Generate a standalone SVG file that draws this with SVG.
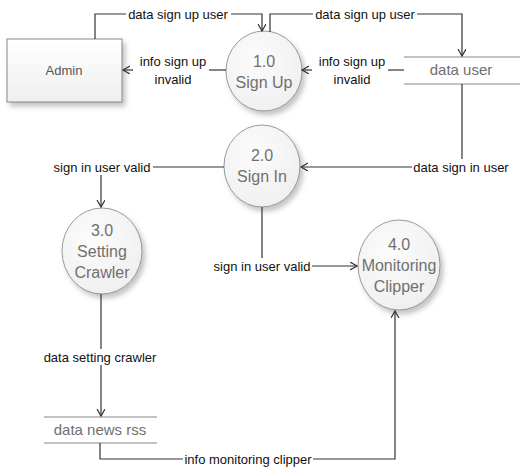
<svg xmlns="http://www.w3.org/2000/svg" width="528" height="470" viewBox="0 0 528 470">
<style>
.lbl{font-family:"Liberation Sans",Arial,sans-serif;font-size:13px;fill:#111;text-anchor:middle}
.nt{font-family:"Liberation Sans",Arial,sans-serif;font-size:16px;fill:#707070;text-anchor:middle}
.st{font-family:"Liberation Sans",Arial,sans-serif;font-size:15px;fill:#707070;text-anchor:middle}
.proc{fill:url(#cg);stroke:#9a9a9a;stroke-width:1;filter:url(#sh)}
.box{fill:url(#bg);stroke:#888;stroke-width:1;filter:url(#sh)}
.store{stroke:#888;stroke-width:1.2}
.c{fill:none;stroke:#333;stroke-width:1.2}
.a{marker-end:url(#ar)}
</style>
<defs>
<marker id="ar" markerWidth="10" markerHeight="10" refX="7" refY="4" orient="auto" markerUnits="userSpaceOnUse">
<path d="M0,0 L7,4 L0,8" fill="none" stroke="#333" stroke-width="1.2"/>
</marker>
<radialGradient id="cg" cx="0.4" cy="0.35" r="0.75">
<stop offset="0" stop-color="#fcfcfc"/>
<stop offset="1" stop-color="#eeeeee"/>
</radialGradient>
<linearGradient id="bg" x1="0" y1="0" x2="0" y2="1">
<stop offset="0" stop-color="#ffffff"/>
<stop offset="1" stop-color="#efefef"/>
</linearGradient>
<filter id="sh" x="-20%" y="-20%" width="150%" height="150%">
<feDropShadow dx="3" dy="4" stdDeviation="2.5" flood-color="#888" flood-opacity="0.5"/>
</filter>
</defs>
<rect width="528" height="470" fill="#fff"/>

<g id="admin">
<rect class="box" x="7" y="39" width="115" height="63"/>
<text class="lbl" x="64" y="75" style="fill:#555">Admin</text>
</g>
<g id="p1">
<ellipse class="proc" cx="264" cy="71" rx="38" ry="40"/>
<text class="nt" x="264" y="67">1.0</text>
<text class="nt" x="264" y="88">Sign Up</text>
</g>
<g id="p2">
<ellipse class="proc" cx="262" cy="166" rx="38" ry="41"/>
<text class="nt" x="262" y="161">2.0</text>
<text class="nt" x="262" y="182">Sign In</text>
</g>
<g id="p3">
<ellipse class="proc" cx="102" cy="251" rx="40" ry="43"/>
<text class="nt" x="102" y="236">3.0</text>
<text class="nt" x="102" y="257">Setting</text>
<text class="nt" x="102" y="278">Crawler</text>
</g>
<g id="p4">
<ellipse class="proc" cx="399" cy="265" rx="41" ry="45"/>
<text class="nt" x="399" y="250">4.0</text>
<text class="nt" x="399" y="271">Monitoring</text>
<text class="nt" x="399" y="292">Clipper</text>
</g>
<g id="dataUser">
<line class="store" x1="404" y1="57" x2="520" y2="57"/>
<line class="store" x1="404" y1="84" x2="520" y2="84"/>
<text class="st" x="461" y="75">data user</text>
</g>
<g id="dataNewsRss">
<line class="store" x1="44" y1="417" x2="157" y2="417"/>
<line class="store" x1="44" y1="443" x2="157" y2="443"/>
<text class="st" x="100" y="435">data news rss</text>
</g>

<g id="connectors">
<path class="c" d="M95,39 V14 H126"/>
<path class="c a" d="M231,14 H262 V31"/>
<text class="lbl" x="178" y="18.5">data sign up user</text>

<path class="c" d="M270,32 V14 H313"/>
<path class="c a" d="M417,14 H462 V56"/>
<text class="lbl" x="365" y="18.5">data sign up user</text>

<path class="c" d="M404,70 H388"/>
<path class="c a" d="M312,70 H302"/>
<text class="lbl" x="352" y="66">info sign up</text>
<text class="lbl" x="352" y="84">invalid</text>

<path class="c" d="M226,70 H209"/>
<path class="c a" d="M133,70 H123"/>
<text class="lbl" x="173" y="66">info sign up</text>
<text class="lbl" x="173" y="84">invalid</text>

<path class="c" d="M462,84 V159"/>
<path class="c a" d="M412,167 H301"/>
<text class="lbl" x="461" y="171.5">data sign in user</text>

<path class="c" d="M224,167 H153"/>
<path class="c a" d="M101,175 V207"/>
<text class="lbl" x="102" y="171.5">sign in user valid</text>

<path class="c" d="M262,207 V258"/>
<path class="c a" d="M312,266 H357"/>
<text class="lbl" x="262" y="270.5">sign in user valid</text>

<path class="c" d="M101,294 V349"/>
<path class="c a" d="M101,365 V416"/>
<text class="lbl" x="100" y="361.5">data setting crawler</text>

<path class="c" d="M100,443 V459 H183"/>
<path class="c a" d="M313,459 H395 V311"/>
<text class="lbl" x="248" y="463.5">info monitoring clipper</text>
</g>
</svg>
